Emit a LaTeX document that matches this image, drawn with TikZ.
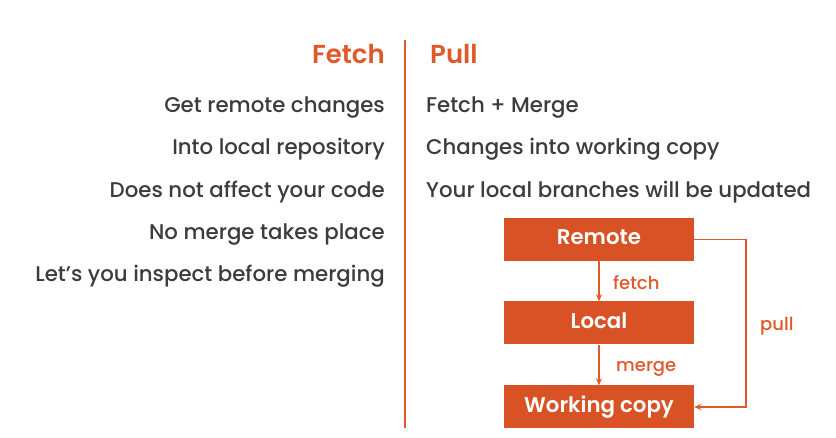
\documentclass[tikz,border=0pt]{standalone}
\usepackage{fontspec}
\setmainfont{Poppins}[UprightFont=* Medium, BoldFont=* SemiBold]
\usetikzlibrary{arrows.meta}
\definecolor{accent}{HTML}{E0592A}
\definecolor{boxfill}{HTML}{D95226}
\definecolor{ink}{HTML}{3C3C3C}
\tikzset{
  x=1pt, y=-1pt,
  heading/.style={text=accent, font=\fontsize{26}{30}\selectfont\bfseries, inner sep=0pt},
  lefttext/.style={text=ink, font=\fontsize{21.3}{24}\selectfont, anchor=base east, inner sep=0pt},
  righttext/.style={text=ink, font=\fontsize{21.3}{24}\selectfont, anchor=base west, inner sep=0pt},
  stepbox/.style={fill=boxfill, text=white, font=\fontsize{21.3}{24}\selectfont\bfseries,
    minimum width=190pt, minimum height=43pt, inner sep=0pt, text height=14pt, text depth=3pt},
  flow/.style={draw=accent, line width=1.6pt, -{Stealth[length=7pt,width=6pt]}},
  flowlabel/.style={text=accent, font=\fontsize{18}{21}\selectfont, anchor=base west, inner sep=0pt},
}
\begin{document}
\begin{tikzpicture}
\useasboundingbox[fill=white] (0,0) rectangle (836,438);
% divider
\coordinate (divtop) at (405,40);
\coordinate (divbot) at (405,428);
\draw[accent, line width=2pt] (divtop) -- (divbot);
% headings
\node[heading, anchor=base east] (fetch) at (385,64) {Fetch};
\node[heading, anchor=base west] (pull) at (430,64) {Pull};
% fetch column
\node[lefttext] (f1) at (385,112.7) {Get remote changes};
\node[lefttext] (f2) at (385,155) {Into local repository};
\node[lefttext] (f3) at (385,197.3) {Does not affect your code};
\node[lefttext] (f4) at (385,239.6) {No merge takes place};
\node[lefttext] (f5) at (385,281.9) {Let’s you inspect before merging};
% pull column
\node[righttext] (p1) at (426,112.7) {Fetch + Merge};
\node[righttext] (p2) at (426,155) {Changes into working copy};
\node[righttext] (p3) at (426,197.3) {Your local branches will be updated};
% flow boxes
\node[stepbox] (remote) at (599,239.5) {Remote};
\node[stepbox] (local) at (599,323) {Local};
\node[stepbox] (work) at (599,407) {Working copy};
% arrows
\draw[flow] (remote.south) -- (local.north);
\draw[flow] (local.south) -- (work.north);
\node[flowlabel] (lfetch) at (613,289.3) {fetch};
\node[flowlabel] (lmerge) at (616,371.7) {merge};
\coordinate (pa) at (746,239.5);
\coordinate (pb) at (746,407);
\draw[flow] (remote.east) -- (pa) -- (pb) -- (work.east);
\node[flowlabel] (lpull) at (760,330.7) {pull};
\end{tikzpicture}
\end{document}
